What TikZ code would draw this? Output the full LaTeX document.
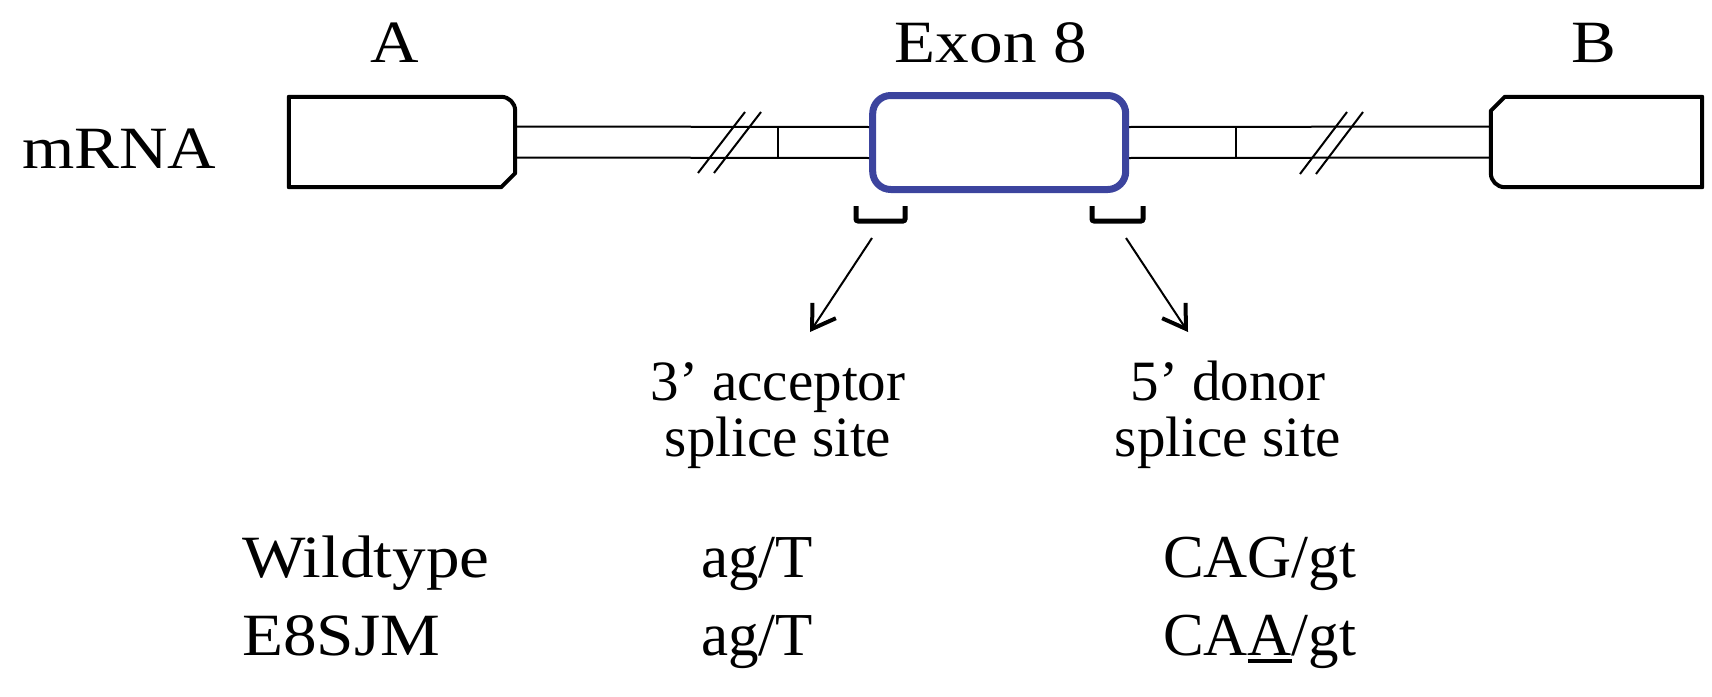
\documentclass[tikz,border=0pt]{standalone}
\usepackage{fontspec}
\setmainfont{Liberation Serif}
\newfontfamily\widefont[FakeStretch=1.12]{Liberation Serif}
\usetikzlibrary{arrows.meta}
\definecolor{exonblue}{RGB}{60,68,158}
\newcommand\thickul[1]{\setbox0\hbox{#1}\rlap{\rule[-8pt]{\wd0}{4.5pt}}#1}
\tikzset{
  bigtext/.style={inner sep=0pt, font=\widefont\fontsize{60}{66}\selectfont},
  seqtext/.style={inner sep=0pt, font=\fontsize{61}{66}\selectfont},
  sitetext/.style={inner sep=0pt, align=center, font=\fontsize{57}{56}\selectfont},
  exonbox/.style={draw=exonblue, line width=7pt, rounded corners=18pt,
    minimum width=253pt, minimum height=94pt, inner sep=0pt},
  flankbox/.style={draw=none, minimum width=#1, minimum height=90pt, inner sep=0pt},
  outline/.style={line width=4pt, line join=round},
  rail/.style={line width=2pt},
  bracket/.style={line width=5pt, rounded corners=2pt},
  pointer/.style={line width=2pt, -{Straight Barb[length=22pt, width=28pt, line width=4pt]}}
}
\begin{document}
\begin{tikzpicture}[x=1pt, y=-1pt]
\useasboundingbox (0,0) rectangle (1712,696);

% exon boxes
\node[flankbox=226pt] (A) at (402,142) {};
\node[exonbox] (E8) at (999.2,142.5) {};
\node[flankbox=211pt] (B) at (1596.5,142) {};

% box A: rounded top right, cut bottom right
\draw[outline] (A.south west) -- (A.north west) -- ([xshift=-14pt]A.north east)
  arc[start angle=90, end angle=0, radius=14pt] -- ([yshift=14pt]A.south east)
  -- ([xshift=-14pt]A.south east) -- cycle;
% box B: cut top left, rounded bottom left
\draw[outline] (B.north east) -- (B.south east) -- ([xshift=14pt]B.south west)
  arc[start angle=270, end angle=180, radius=14pt] -- ([yshift=-14pt]B.north west)
  -- ([xshift=14pt]B.north west) -- cycle;

% introns as double rails
\draw[rail] ([yshift=15.5pt]A.east) -- ([yshift=15.5pt]E8.west);
\draw[rail] ([yshift=-15.5pt]A.east) -- ([yshift=-15.5pt]E8.west);
\draw[rail] ([yshift=15.5pt]E8.east) -- ([yshift=15.5pt]B.west);
\draw[rail] ([yshift=-15.5pt]E8.east) -- ([yshift=-15.5pt]B.west);
\draw[rail] (777.7,127) -- (777.7,158);
\draw[rail] (1236,127) -- (1236,158);

% break marks
\draw[rail] (698,173) -- (745,112);
\draw[rail] (714,173) -- (761,112);
\draw[rail] (1300,174) -- (1347,112);
\draw[rail] (1316,174) -- (1363,112);

% splice site brackets
\draw[bracket] (856,206) -- (856,221) -- (905,221) -- (905,206);
\draw[bracket] (1092,206) -- (1092,221) -- (1143,221) -- (1143,206);

% labels
\node[bigtext, anchor=base] (lA) at (395,62) {A};
\node[bigtext, anchor=base] (lE) at (991,62) {Exon 8};
\node[bigtext, anchor=base] (lB) at (1594,62) {B};
\node[bigtext, anchor=base west] (lm) at (22,168) {mRNA};

\node[sitetext, anchor=base] (acc) at (778,456) {3’ acceptor\\splice site};
\node[sitetext, anchor=base] (don) at (1228,456) {5’ donor\\splice site};

% arrows from sites to their labels
\coordinate (accfrom) at (872,238);
\coordinate (accto) at (810,332);
\coordinate (donfrom) at (1126,238);
\coordinate (donto) at (1188,332);
\draw[pointer] (accfrom) -- (accto);
\draw[pointer] (donfrom) -- (donto);

% sequence table
\node[bigtext, anchor=base west] (wt) at (242,577) {Wildtype};
\node[bigtext, anchor=base west] (mt) at (242,655) {E8SJM};
\node[seqtext, anchor=base west] (wta) at (701,577) {ag/T};
\node[seqtext, anchor=base west] (mta) at (701,655) {ag/T};
\node[seqtext, anchor=base west] (wtd) at (1163,577) {CAG/gt};
\node[seqtext, anchor=base west] (mtd) at (1163,655) {CA\thickul{A}/gt};
\end{tikzpicture}
\end{document}
